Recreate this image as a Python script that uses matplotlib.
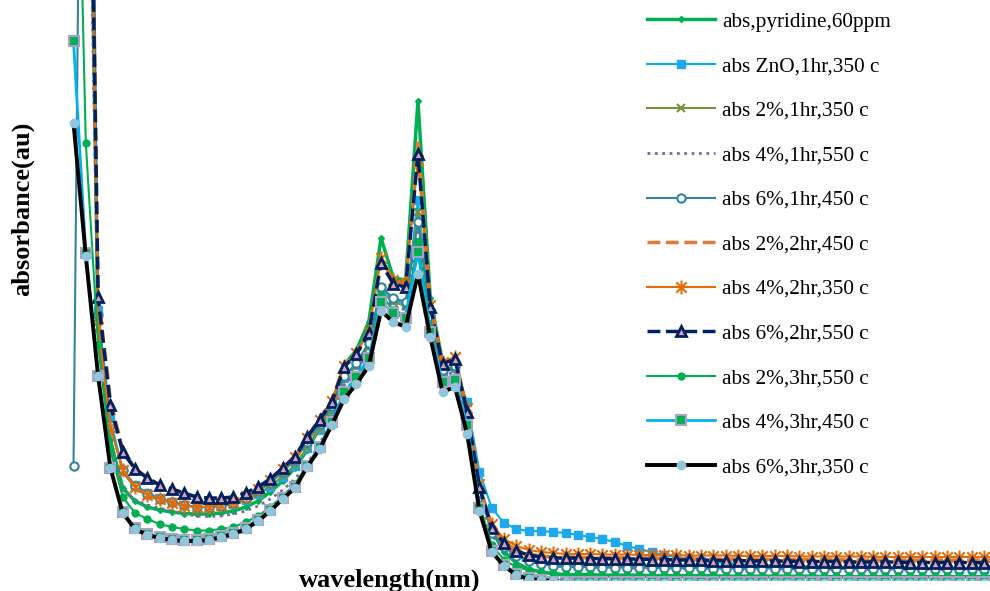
import numpy as np
import matplotlib
matplotlib.use("Agg")
import matplotlib.pyplot as plt
from matplotlib.path import Path

wavelength = np.arange(200, 352, 2)

pyridine_60ppm = [3.46, 2.08, 0.5, 0.28, 0.184, 0.158, 0.146, 0.14, 0.136, 0.133,
                  0.132, 0.132, 0.134, 0.138, 0.146, 0.158, 0.176, 0.198, 0.224, 0.26,
                  0.304, 0.352, 0.43, 0.46, 0.516, 0.684, 0.604, 0.6, 0.958, 0.564,
                  0.436, 0.44, 0.34, 0.184, 0.1, 0.056, 0.034, 0.022, 0.016, 0.012,
                  0.010, 0.009, 0.008, 0.008, 0.008, 0.008, 0.007, 0.007, 0.007, 0.007,
                  0.007, 0.007, 0.006, 0.006, 0.006, 0.006, 0.006, 0.006, 0.006, 0.006,
                  0.006, 0.006, 0.006, 0.006, 0.006, 0.006, 0.006, 0.006, 0.006, 0.006,
                  0.006, 0.006, 0.006, 0.006, 0.006, 0.006]
zno_1hr_350 = [3.36, 2.0, 0.54, 0.32, 0.22, 0.19, 0.174, 0.164, 0.156, 0.15,
               0.146, 0.146, 0.148, 0.152, 0.16, 0.172, 0.186, 0.206, 0.228, 0.264,
               0.3, 0.336, 0.404, 0.43, 0.47, 0.584, 0.56, 0.552, 0.76, 0.524,
               0.416, 0.424, 0.356, 0.216, 0.144, 0.114, 0.102, 0.098, 0.098, 0.096,
               0.094, 0.09, 0.086, 0.082, 0.076, 0.068, 0.062, 0.056, 0.05, 0.046,
               0.042, 0.038, 0.036, 0.034, 0.032, 0.030, 0.030, 0.029, 0.028, 0.028,
               0.027, 0.027, 0.026, 0.026, 0.026, 0.025, 0.025, 0.025, 0.024, 0.024,
               0.024, 0.024, 0.023, 0.023, 0.023, 0.023]
p2_1hr_350 = [3.16, 1.92, 0.524, 0.31, 0.216, 0.184, 0.168, 0.16, 0.154, 0.15,
              0.146, 0.146, 0.148, 0.152, 0.16, 0.172, 0.188, 0.208, 0.23, 0.266,
              0.3, 0.336, 0.404, 0.428, 0.468, 0.576, 0.556, 0.548, 0.736, 0.52,
              0.416, 0.424, 0.332, 0.18, 0.1, 0.068, 0.05, 0.04, 0.034, 0.03,
              0.028, 0.028, 0.028, 0.027, 0.027, 0.027, 0.027, 0.026, 0.026, 0.026,
              0.026, 0.026, 0.025, 0.025, 0.025, 0.025, 0.025, 0.025, 0.025, 0.024,
              0.024, 0.024, 0.024, 0.024, 0.024, 0.024, 0.024, 0.024, 0.024, 0.024,
              0.024, 0.024, 0.024, 0.024, 0.024, 0.024]
p4_1hr_550 = [2.96, 1.86, 0.5, 0.27, 0.18, 0.16, 0.15, 0.144, 0.138, 0.132,
              0.128, 0.127, 0.128, 0.132, 0.138, 0.148, 0.162, 0.18, 0.202, 0.232,
              0.272, 0.32, 0.39, 0.416, 0.456, 0.568, 0.548, 0.54, 0.696, 0.512,
              0.408, 0.416, 0.32, 0.168, 0.09, 0.06, 0.044, 0.036, 0.03, 0.028,
              0.026, 0.026, 0.025, 0.025, 0.025, 0.024, 0.024, 0.024, 0.024, 0.023,
              0.023, 0.023, 0.023, 0.023, 0.022, 0.022, 0.022, 0.022, 0.022, 0.022,
              0.021, 0.021, 0.021, 0.021, 0.021, 0.021, 0.021, 0.021, 0.021, 0.021,
              0.021, 0.021, 0.021, 0.021, 0.021, 0.021]
p6_1hr_450 = [0.228, 2.776, 0.53, 0.31, 0.22, 0.188, 0.172, 0.162, 0.156, 0.15,
              0.146, 0.146, 0.148, 0.154, 0.164, 0.178, 0.194, 0.216, 0.24, 0.276,
              0.312, 0.348, 0.408, 0.434, 0.474, 0.586, 0.564, 0.556, 0.716, 0.528,
              0.42, 0.428, 0.33, 0.176, 0.094, 0.066, 0.048, 0.038, 0.032, 0.028,
              0.026, 0.026, 0.026, 0.025, 0.025, 0.025, 0.025, 0.024, 0.024, 0.024,
              0.024, 0.024, 0.023, 0.023, 0.023, 0.023, 0.023, 0.023, 0.022, 0.022,
              0.022, 0.022, 0.022, 0.022, 0.022, 0.022, 0.022, 0.022, 0.022, 0.022,
              0.022, 0.022, 0.022, 0.022, 0.022, 0.022]
p2_2hr_450 = [3.66, 2.2, 0.57, 0.36, 0.26, 0.224, 0.204, 0.19, 0.18, 0.172,
              0.166, 0.162, 0.162, 0.166, 0.174, 0.186, 0.202, 0.224, 0.248, 0.286,
              0.322, 0.36, 0.43, 0.456, 0.5, 0.644, 0.598, 0.592, 0.874, 0.552,
              0.436, 0.446, 0.34, 0.188, 0.106, 0.076, 0.06, 0.052, 0.048, 0.046,
              0.046, 0.046, 0.045, 0.045, 0.045, 0.044, 0.044, 0.044, 0.043, 0.043,
              0.043, 0.043, 0.042, 0.042, 0.042, 0.042, 0.042, 0.041, 0.041, 0.041,
              0.041, 0.041, 0.041, 0.040, 0.040, 0.040, 0.040, 0.040, 0.040, 0.040,
              0.040, 0.040, 0.040, 0.040, 0.040, 0.040]
p4_2hr_350 = [3.46, 2.1, 0.506, 0.306, 0.22, 0.186, 0.17, 0.162, 0.154, 0.148,
              0.146, 0.146, 0.15, 0.156, 0.168, 0.182, 0.2, 0.222, 0.246, 0.284,
              0.32, 0.358, 0.428, 0.454, 0.496, 0.644, 0.6, 0.594, 0.84, 0.55,
              0.436, 0.446, 0.344, 0.192, 0.112, 0.082, 0.068, 0.06, 0.056, 0.054,
              0.052, 0.052, 0.052, 0.051, 0.051, 0.051, 0.050, 0.050, 0.050, 0.050,
              0.049, 0.049, 0.049, 0.049, 0.048, 0.048, 0.048, 0.048, 0.048, 0.047,
              0.047, 0.047, 0.047, 0.047, 0.047, 0.046, 0.046, 0.046, 0.046, 0.046,
              0.046, 0.046, 0.046, 0.046, 0.046, 0.046]
p6_2hr_550 = [3.56, 2.154, 0.566, 0.35, 0.256, 0.222, 0.204, 0.19, 0.182, 0.174,
              0.166, 0.164, 0.164, 0.166, 0.174, 0.186, 0.202, 0.224, 0.246, 0.286,
              0.32, 0.356, 0.426, 0.452, 0.494, 0.634, 0.592, 0.586, 0.852, 0.546,
              0.432, 0.442, 0.336, 0.186, 0.104, 0.074, 0.058, 0.05, 0.046, 0.044,
              0.044, 0.044, 0.043, 0.043, 0.042, 0.042, 0.042, 0.041, 0.041, 0.040,
              0.040, 0.040, 0.039, 0.039, 0.039, 0.038, 0.038, 0.038, 0.038, 0.037,
              0.037, 0.037, 0.037, 0.036, 0.036, 0.036, 0.036, 0.036, 0.035, 0.035,
              0.035, 0.035, 0.035, 0.035, 0.034, 0.034]
p2_3hr_550 = [1.932, 0.874, 0.47, 0.26, 0.166, 0.134, 0.122, 0.112, 0.106, 0.102,
              0.099, 0.099, 0.102, 0.106, 0.116, 0.128, 0.146, 0.168, 0.192, 0.23,
              0.268, 0.316, 0.37, 0.4, 0.44, 0.57, 0.54, 0.53, 0.676, 0.504,
              0.392, 0.4, 0.304, 0.152, 0.07, 0.04, 0.026, 0.02, 0.016, 0.014,
              0.012, 0.012, 0.012, 0.011, 0.011, 0.011, 0.011, 0.010, 0.010, 0.010,
              0.010, 0.010, 0.010, 0.009, 0.009, 0.009, 0.009, 0.009, 0.009, 0.009,
              0.009, 0.008, 0.008, 0.008, 0.008, 0.008, 0.008, 0.008, 0.008, 0.008,
              0.008, 0.008, 0.008, 0.008, 0.008, 0.008]
p4_3hr_450 = [1.078, 0.654, 0.408, 0.224, 0.136, 0.104, 0.092, 0.086, 0.082, 0.08,
              0.08, 0.082, 0.088, 0.094, 0.104, 0.12, 0.14, 0.164, 0.186, 0.228,
              0.266, 0.316, 0.376, 0.406, 0.444, 0.556, 0.534, 0.524, 0.656, 0.496,
              0.396, 0.4, 0.31, 0.144, 0.058, 0.03, 0.012, 0.004, 0.0, -0.003,
              -0.004, -0.004, -0.004, -0.004, -0.004, -0.004, -0.004, -0.004, -0.004, -0.004,
              -0.004, -0.004, -0.004, -0.004, -0.004, -0.004, -0.004, -0.004, -0.004, -0.004,
              -0.004, -0.004, -0.004, -0.004, -0.004, -0.004, -0.004, -0.004, -0.004, -0.004,
              -0.004, -0.004, -0.004, -0.004, -0.004, -0.004]
p6_3hr_350 = [0.914, 0.648, 0.408, 0.224, 0.134, 0.102, 0.09, 0.084, 0.08, 0.078,
              0.078, 0.08, 0.086, 0.092, 0.102, 0.118, 0.138, 0.162, 0.184, 0.226,
              0.262, 0.31, 0.362, 0.392, 0.428, 0.538, 0.516, 0.506, 0.612, 0.486,
              0.376, 0.386, 0.292, 0.138, 0.056, 0.028, 0.01, 0.002, 0.0, -0.002,
              -0.004, -0.005, -0.006, -0.006, -0.006, -0.006, -0.006, -0.006, -0.006, -0.006,
              -0.006, -0.006, -0.006, -0.006, -0.006, -0.006, -0.006, -0.006, -0.006, -0.006,
              -0.006, -0.006, -0.006, -0.006, -0.006, -0.006, -0.006, -0.006, -0.006, -0.006,
              -0.006, -0.006, -0.006, -0.006, -0.006, -0.006]

labels = ["abs,pyridine,60ppm", "abs ZnO,1hr,350 c", "abs 2%,1hr,350 c",
          "abs 4%,1hr,550 c", "abs 6%,1hr,450 c", "abs 2%,2hr,450 c",
          "abs 4%,2hr,350 c", "abs 6%,2hr,550 c", "abs 2%,3hr,550 c",
          "abs 4%,3hr,450 c", "abs 6%,3hr,350 c"]
series = [pyridine_60ppm, zno_1hr_350, p2_1hr_350, p4_1hr_550, p6_1hr_450,
          p2_2hr_450, p4_2hr_350, p6_2hr_550, p2_3hr_550, p4_3hr_450, p6_3hr_350]

# excel style "star" marker: an x with a vertical bar
star = Path([(0, -1), (0, 1), (-0.75, -0.75), (0.75, 0.75), (-0.75, 0.75), (0.75, -0.75)],
            [Path.MOVETO, Path.LINETO] * 3)

styles = [
    dict(color="#00B050", lw=2.5, marker="D", ms=3),
    dict(color="#00B0F0", lw=1.5, marker="s", ms=6, mfc="#1FA9EC", mec="#1FA9EC"),
    dict(color="#77933C", lw=1.5, marker="x", ms=6, mew=1.5),
    dict(color="#8064A2", lw=2, ls=":"),
    dict(color="#31859C", lw=1.5, marker="o", ms=6, mfc="white", mew=1.5),
    dict(color="#E07B39", lw=2.5, ls="--"),
    dict(color="#E36C09", lw=1.5, marker=star, ms=10, mfc="none", mew=1.5),
    dict(color="#002060", lw=2.5, ls="--", marker="^", ms=7, mfc="#D9A0B0", mec="#002060", mew=2),
    dict(color="#00B050", lw=1.5, marker="o", ms=5),
    dict(color="#00B0F0", lw=2, marker="s", ms=7, mfc="#00B050", mec="#A9A1C9", mew=1.5),
    dict(color="black", lw=2.8, marker="o", ms=6, mfc="#93C5DA", mec="#93C5DA"),
]

plt.rcParams["font.family"] = "Liberation Serif"

fig = plt.figure(figsize=(9.9, 5.91), dpi=100)
# plot area: bottom edge at the zero line, top runs past the picture
ax = fig.add_axes([0, 11 / 591, 1, 580 / 591])

for vals, lab, st in zip(series, labels, styles):
    ax.plot(wavelength, vals, label=lab, **st)

ax.set_xlim(188.05, 349.0)
ax.set_ylim(0, 1.16)
ax.set_xticks([])
ax.set_yticks([])
for s in ax.spines.values():
    s.set_visible(False)

ax.set_xlabel("wavelength(nm)", fontsize=19, fontweight="bold")
ax.xaxis.set_label_coords(0.394, 0.019)
ax.set_ylabel("absorbance(au)", fontsize=19, fontweight="bold")
ax.yaxis.set_label_coords(0.034, 0.64)

leg = ax.legend(loc="upper left", bbox_to_anchor=(647 / 990, 1 - 12 / 580), frameon=False,
                fontsize=15.3, handlelength=3.2, handletextpad=0.33, labelspacing=1.16,
                borderpad=0, borderaxespad=0)

fig.savefig("out.png", dpi=100)
